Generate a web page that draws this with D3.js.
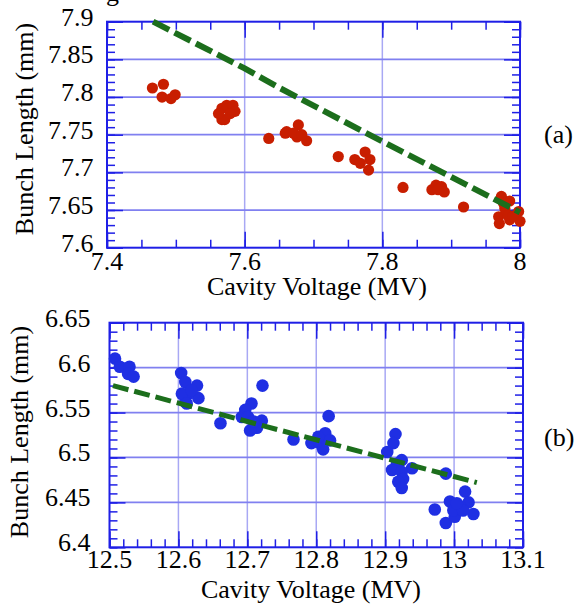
<!DOCTYPE html>
<html lang="en">
<head>
    <meta charset="UTF-8">
    <title>Bunch Length vs Cavity Voltage</title>
    <script src="https://d3js.org/d3.v7.min.js"></script>
    <style>
        body { margin: 0; background: #fff; }
        text { font-family: "Liberation Serif", "Times New Roman", serif; fill: #000; }
    </style>
</head>
<body>
    <div id="chart-container"></div>

    <script>
        // panel (a): measured points [cavity voltage MV, bunch length mm]
        const redPoints = [
            [7.466, 7.812], [7.482, 7.817], [7.480, 7.800], [7.493, 7.798], [7.499, 7.803],
            [7.567, 7.785], [7.574, 7.789], [7.583, 7.789], [7.586, 7.781], [7.567, 7.770],
            [7.571, 7.770], [7.562, 7.778], [7.579, 7.778],
            [7.635, 7.745], [7.659, 7.752], [7.661, 7.754], [7.678, 7.763], [7.676, 7.747],
            [7.690, 7.742], [7.671, 7.752], [7.683, 7.750],
            [7.736, 7.721], [7.760, 7.717], [7.775, 7.727], [7.782, 7.717], [7.780, 7.703],
            [7.768, 7.712],
            [7.830, 7.680],
            [7.872, 7.677], [7.878, 7.683], [7.886, 7.681], [7.890, 7.674], [7.881, 7.677],
            [7.918, 7.654],
            [7.973, 7.668], [7.985, 7.662], [7.969, 7.641], [7.970, 7.632], [7.998, 7.648],
            [8.000, 7.635], [7.985, 7.637], [7.978, 7.652], [7.983, 7.643], [7.976, 7.659],
            [7.990, 7.642]
        ];
        // panel (a): calculated curve
        const greenLineA = [
            [7.467, 7.900], [7.600, 7.838], [7.651, 7.812], [7.800, 7.741], [8.000, 7.647]
        ];

        // panel (b): measured points
        const bluePoints = [
            [12.508, 6.610], [12.515, 6.601], [12.529, 6.601], [12.527, 6.593], [12.535, 6.590],
            [12.604, 6.594], [12.610, 6.584], [12.627, 6.580], [12.629, 6.566], [12.610, 6.562],
            [12.614, 6.571], [12.605, 6.571], [12.619, 6.575], [12.612, 6.560],
            [12.661, 6.538],
            [12.722, 6.580], [12.706, 6.560], [12.697, 6.553], [12.692, 6.545], [12.701, 6.545],
            [12.721, 6.541], [12.714, 6.533], [12.704, 6.530], [12.709, 6.540],
            [12.767, 6.520],
            [12.818, 6.546], [12.813, 6.527], [12.793, 6.516], [12.805, 6.516], [12.810, 6.509],
            [12.820, 6.519], [12.803, 6.523],
            [12.915, 6.526], [12.912, 6.516], [12.903, 6.506], [12.924, 6.497], [12.917, 6.493],
            [12.939, 6.488], [12.910, 6.486], [12.924, 6.484], [12.926, 6.476], [12.919, 6.473],
            [12.924, 6.466],
            [12.988, 6.482],
            [12.972, 6.442], [12.988, 6.427], [12.994, 6.451], [13.016, 6.462], [13.021, 6.450],
            [13.028, 6.437], [13.001, 6.434], [13.009, 6.445], [12.999, 6.441], [13.013, 6.441],
            [13.004, 6.449]
        ];
        // panel (b): calculated curve
        const greenLineB = [
            [12.505, 6.580], [12.700, 6.540], [13.033, 6.472]
        ];

        // tick values and labels
        const xTicksA = [7.4, 7.6, 7.8, 8.0];
        const xLabelsA = ["7.4", "7.6", "7.8", "8"];
        const yTicksA = [7.6, 7.65, 7.7, 7.75, 7.8, 7.85, 7.9];
        const yLabelsA = ["7.6", "7.65", "7.7", "7.75", "7.8", "7.85", "7.9"];
        const xTicksB = [12.5, 12.6, 12.7, 12.8, 12.9, 13.0, 13.1];
        const xLabelsB = ["12.5", "12.6", "12.7", "12.8", "12.9", "13", "13.1"];
        const yTicksB = [6.4, 6.45, 6.5, 6.55, 6.6, 6.65];
        const yLabelsB = ["6.4", "6.45", "6.5", "6.55", "6.6", "6.65"];

        const svg = d3.select("#chart-container")
            .append("svg")
            .attr("width", 574)
            .attr("height", 604);

        const frameColor = "#1f1fe6";
        const gridColor = "#8080f0";
        const fontSize = 26;

        function drawPanel(cfg) {
            const x = d3.scaleLinear().domain(cfg.xDomain).range([cfg.left, cfg.right]);
            const y = d3.scaleLinear().domain(cfg.yDomain).range([cfg.bottom, cfg.top]);
            const g = svg.append("g");

            // grid lines at major ticks
            g.selectAll(".gx")
                .data(cfg.xTicks.slice(1, -1))
                .join("line")
                .attr("x1", d => x(d)).attr("x2", d => x(d))
                .attr("y1", cfg.top).attr("y2", cfg.bottom)
                .attr("stroke", "#a8a8f4")
                .attr("stroke-width", 1.5);
            g.selectAll(".gy")
                .data(cfg.yTicks.slice(1, -1))
                .join("line")
                .attr("x1", cfg.left).attr("x2", cfg.right)
                .attr("y1", d => y(d)).attr("y2", d => y(d))
                .attr("stroke", gridColor)
                .attr("stroke-width", 1.8);

            // inward ticks on all four sides (minor, then major)
            const minorX = x.ticks(cfg.xMinor);
            const minorY = y.ticks(cfg.yMinor);
            const axes = [
                [d3.axisBottom(x), `translate(0,${cfg.bottom})`],
                [d3.axisTop(x), `translate(0,${cfg.top})`],
                [d3.axisLeft(y), `translate(${cfg.left},0)`],
                [d3.axisRight(y), `translate(${cfg.right},0)`]
            ];
            axes.forEach(function(a, i) {
                const isX = i < 2;
                [[isX ? minorX : minorY, -8], [isX ? cfg.xTicks : cfg.yTicks, -16]].forEach(function(t) {
                    g.append("g")
                        .attr("transform", a[1])
                        .call(a[0].tickValues(t[0]).tickSizeInner(t[1]).tickSizeOuter(0).tickFormat(""))
                        .call(s => s.select(".domain").remove())
                        .call(s => s.selectAll("text").remove())
                        .call(s => s.selectAll("line").attr("stroke", frameColor).attr("stroke-width", 1.5));
                });
            });

            // frame
            g.append("rect")
                .attr("x", cfg.left).attr("y", cfg.top)
                .attr("width", cfg.right - cfg.left)
                .attr("height", cfg.bottom - cfg.top)
                .attr("fill", "none")
                .attr("stroke", frameColor)
                .attr("stroke-width", 2);

            // tick labels
            g.selectAll(".xl")
                .data(cfg.xTicks)
                .join("text")
                .attr("x", d => x(d))
                .attr("y", cfg.bottom + cfg.xLabelGap)
                .attr("text-anchor", "middle")
                .attr("font-size", fontSize)
                .text((d, i) => cfg.xLabels[i]);
            g.selectAll(".yl")
                .data(cfg.yTicks)
                .join("text")
                .attr("x", cfg.left - cfg.yLabelGap)
                .attr("y", d => y(d) + 4)
                .attr("text-anchor", "end")
                .attr("font-size", fontSize)
                .text((d, i) => cfg.yLabels[i]);

            // axis titles
            g.append("text")
                .attr("x", cfg.xTitleX)
                .attr("y", cfg.xTitleY)
                .attr("text-anchor", "middle")
                .attr("font-size", fontSize)
                .text("Cavity Voltage (MV)");
            g.append("text")
                .attr("transform", `translate(${cfg.yTitleX},${cfg.yTitleY}) rotate(-90)`)
                .attr("text-anchor", "middle")
                .attr("font-size", fontSize)
                .text("Bunch Length (mm)");
            g.append("text")
                .attr("x", 544)
                .attr("y", cfg.tagY)
                .attr("font-size", fontSize)
                .text(cfg.tag);

            // points
            g.selectAll(".pt")
                .data(cfg.points)
                .join("circle")
                .attr("cx", d => x(d[0]))
                .attr("cy", d => y(d[1]))
                .attr("r", cfg.r)
                .attr("fill", cfg.pointColor);

            // calculated line
            g.append("path")
                .datum(cfg.line)
                .attr("fill", "none")
                .attr("stroke", "#1c6e1c")
                .attr("stroke-width", cfg.lineWidth)
                .attr("stroke-dasharray", cfg.dash)
                .attr("d", d3.line()
                    .x(d => x(d[0]))
                    .y(d => y(d[1])));
        }

        drawPanel({
            xDomain: [7.4, 8.0], yDomain: [7.6, 7.9],
            left: 107, right: 520, top: 21.7, bottom: 247.7,
            xTicks: xTicksA, xLabels: xLabelsA, yTicks: yTicksA, yLabels: yLabelsA,
            xMinor: 12, yMinor: 30,
            xLabelGap: 22, yLabelGap: 13.5,
            xTitleX: 317, xTitleY: 295, yTitleX: 33, yTitleY: 129,
            tag: "(a)", tagY: 143,
            points: redPoints, pointColor: "#c81e00", r: 5.6,
            line: greenLineA, lineWidth: 6, dash: "18,6"
        });

        drawPanel({
            xDomain: [12.5, 13.1], yDomain: [6.4, 6.65],
            left: 109.5, right: 523, top: 322.7, bottom: 547.3,
            xTicks: xTicksB, xLabels: xLabelsB, yTicks: yTicksB, yLabels: yLabelsB,
            xMinor: 30, yMinor: 25,
            xLabelGap: 21, yLabelGap: 19,
            xTitleX: 311, xTitleY: 598, yTitleX: 28, yTitleY: 432,
            tag: "(b)", tagY: 446,
            points: bluePoints, pointColor: "#1f2fe3", r: 6.3,
            line: greenLineB, lineWidth: 5, dash: "16,6"
        });

        // fragment of text cut off at the top edge
        svg.append("text")
            .attr("x", 106)
            .attr("y", 1)
            .attr("font-size", fontSize)
            .text("g");
    </script>
</body>
</html>
